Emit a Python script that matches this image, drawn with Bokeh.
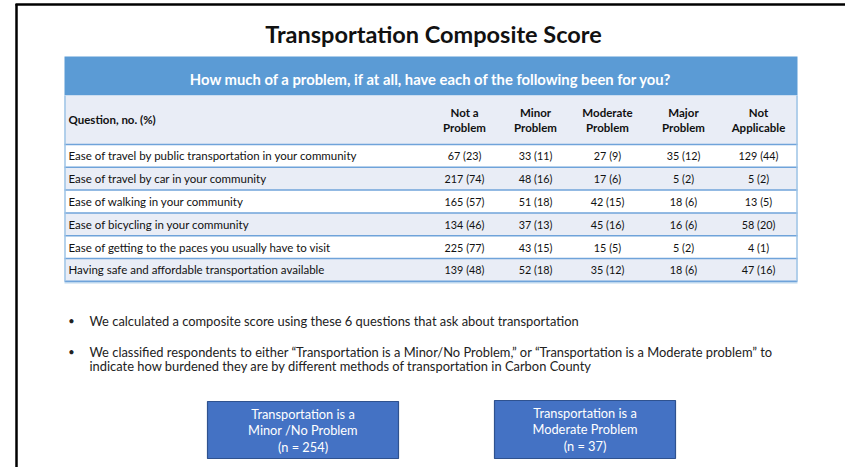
from bokeh.plotting import figure
from bokeh.models import Range1d
from bokeh.core.properties import value
from bokeh.embed import file_html
from bokeh.resources import INLINE

# ---------------- data ----------------
title = "Transportation Composite Score"
question_header = "How much of a problem, if at all, have each of the following been for you?"
row_header = "Question, no. (%)"
col_line1 = ["Not a", "Minor", "Moderate", "Major", "Not"]
col_line2 = ["Problem", "Problem", "Problem", "Problem", "Applicable"]
questions = [
    "Ease of travel by public transportation in your community",
    "Ease of travel by car in your community",
    "Ease of walking in your community",
    "Ease of bicycling in your community",
    "Ease of getting to the paces you usually have to visit",
    "Having safe and affordable transportation available",
]
not_a_problem = [67, 217, 165, 134, 225, 139]
not_a_problem_pct = [23, 74, 57, 46, 77, 48]
minor_problem = [33, 48, 51, 37, 43, 52]
minor_problem_pct = [11, 16, 18, 13, 15, 18]
moderate_problem = [27, 17, 42, 45, 15, 35]
moderate_problem_pct = [9, 6, 15, 16, 5, 12]
major_problem = [35, 5, 18, 16, 5, 18]
major_problem_pct = [12, 2, 6, 6, 2, 6]
not_applicable = [129, 5, 13, 58, 4, 47]
not_applicable_pct = [44, 2, 5, 20, 1, 16]
bullets = [
    ["We calculated a composite score using these 6 questions that ask about transportation"],
    ["We classified respondents to either \u201cTransportation is a Minor/No Problem,\u201d or \u201cTransportation is a Moderate problem\u201d to",
     "indicate how burdened they are by different methods of transportation in Carbon County"],
]
group_labels = [["Transportation is a", "Minor /No Problem"], ["Transportation is a", "Moderate Problem"]]
group_n = [254, 37]

# ---------------- layout ----------------
FONT = value("Lato")
W, H = 845, 467
p = figure(width=W, height=H, output_backend="svg", toolbar_location=None,
           x_range=Range1d(0, W), y_range=Range1d(H, 0),
           min_border=0, outline_line_color=None, background_fill_color="white",
           border_fill_color="white")
p.axis.visible = False
p.grid.visible = False

# slide frame
p.segment(x0=[16], y0=[3.5], x1=[16], y1=[480], line_color="black", line_width=2.5)
p.segment(x0=[15], y0=[4], x1=[860], y1=[4], line_color="black", line_width=2.5)

# title
p.text(x=[433], y=[33], text=[title], text_font=FONT, text_font_style="bold",
       text_font_size="23.5px", text_align="center", text_baseline="middle", text_color="#111111")

tx0, tx1 = 64, 797
# blue header
p.quad(left=[tx0], right=[tx1], top=[56], bottom=[95], fill_color="#5B9BD5", line_color=None)
p.text(x=[(tx0 + tx1) / 2], y=[78], text=[question_header], text_font=FONT, text_font_style="bold",
       text_font_size="14.8px", text_align="center", text_baseline="middle", text_color="white")

# column header row
p.quad(left=[tx0], right=[tx1], top=[95], bottom=[144], fill_color="#E9EDF6", line_color=None)
p.text(x=[68], y=[119], text=[row_header], text_font=FONT, text_font_style="bold",
       text_font_size="11.5px", text_align="left", text_baseline="middle", text_color="#111111")
col_x = [464, 535, 607, 683, 758]
p.text(x=col_x, y=[112] * 5, text=col_line1, text_font=FONT, text_font_style="bold",
       text_font_size="11.5px", text_align="center", text_baseline="middle", text_color="#111111")
p.text(x=col_x, y=[127] * 5, text=col_line2, text_font=FONT, text_font_style="bold",
       text_font_size="11.5px", text_align="center", text_baseline="middle", text_color="#111111")

# data rows
row_top = 144.0
row_h = 22.8
n = len(questions)
tops = [row_top + i * row_h for i in range(n)]
bots = [t + row_h for t in tops]
mids = [t + row_h / 2 for t in tops]
fills = ["white" if i % 2 == 0 else "#E9EDF6" for i in range(n)]
p.quad(left=[tx0] * n, right=[tx1] * n, top=tops, bottom=bots, fill_color=fills, line_color=None)
p.text(x=[68] * n, y=mids, text=questions, text_font=FONT, text_font_size="11.5px",
       text_align="left", text_baseline="middle", text_color="#111111")
cols = [(not_a_problem, not_a_problem_pct), (minor_problem, minor_problem_pct),
        (moderate_problem, moderate_problem_pct), (major_problem, major_problem_pct),
        (not_applicable, not_applicable_pct)]
for cx, (cnt, pct) in zip(col_x, cols):
    labels = [f"{c} ({q})" for c, q in zip(cnt, pct)]
    p.text(x=[cx] * n, y=mids, text=labels, text_font=FONT, text_font_size="10.8px",
           text_align="center", text_baseline="middle", text_color="#111111")

# row separators and borders
line_ys = [144] + bots
p.segment(x0=[tx0] * len(line_ys), y0=line_ys, x1=[tx1] * len(line_ys), y1=line_ys,
          line_color="#6FA3DA", line_width=1.5)
p.segment(x0=[tx0 + 0.5, tx1 - 0.5], y0=[95, 95], x1=[tx0 + 0.5, tx1 - 0.5], y1=[bots[-1], bots[-1]],
          line_color="#9DC3E6", line_width=1.5)
p.segment(x0=[tx0], y0=[bots[-1] + 1.5], x1=[tx1], y1=[bots[-1] + 1.5],
          line_color="#BDD7EE", line_width=1.5)

# bullets
by = [320, 351]
for b, y0 in zip(bullets, by):
    p.text(x=[71], y=[y0], text=["\u2022"], text_font=FONT, text_font_size="11px",
           text_align="center", text_baseline="middle", text_color="#222222")
    p.text(x=[89] * len(b), y=[y0 + 14 * k for k in range(len(b))], text=b, text_font=FONT,
           text_font_size="12.9px", text_align="left", text_baseline="middle", text_color="#222222")

# group boxes
box_l = [207, 494]
box_r = [398, 675]
box_t = [401, 400]
box_b = [458, 458]
p.quad(left=box_l, right=box_r, top=box_t, bottom=box_b, fill_color="#4472C4",
       line_color="#2F528F", line_width=1.2)
for i in range(2):
    cx = (box_l[i] + box_r[i]) / 2
    lines = group_labels[i] + [f"(n = {group_n[i]})"]
    ys = [box_t[i] + 12 + 16.5 * k for k in range(3)]
    p.text(x=[cx] * 3, y=ys, text=lines, text_font=FONT, text_font_size="12.8px",
           text_align="center", text_baseline="middle", text_color="white")

open("out.html", "w").write(file_html(p, INLINE))
